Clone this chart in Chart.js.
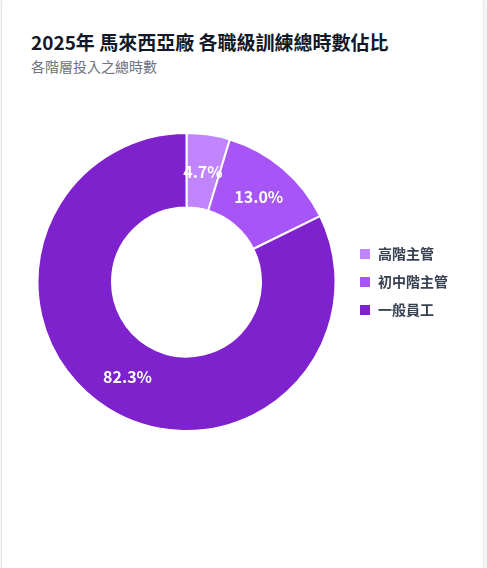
<!DOCTYPE html>
<html><head><meta charset="utf-8">
<script src="https://cdn.jsdelivr.net/npm/chart.js@4"></script>
<style>
body{margin:0;background:#f3f4f6;font-family:"Noto Sans CJK TC","Noto Sans",sans-serif;}
.card{position:absolute;left:1px;top:-10px;width:483px;height:600px;background:#fff;border:1px solid #e5e7eb;border-radius:14px;box-sizing:border-box;}
h1{position:absolute;left:31px;top:28px;margin:0;font-size:19px;font-weight:700;color:#111827;}
.sub{position:absolute;left:31px;top:56px;font-size:14px;color:#6b7280;}
.wrap{position:absolute;left:28px;top:132px;width:430px;height:300px;}
</style></head><body>
<div class="card"></div>
<h1>2025年 馬來西亞廠 各職級訓練總時數佔比</h1>
<div class="sub">各階層投入之總時數</div>
<div class="wrap"><canvas id="c"></canvas></div>
<script>
const labels = ['高階主管','初中階主管','一般員工'];
const values = [4.7, 13.0, 82.3];
const colors = ['#c084fc','#a855f7','#7e22ce'];

const sliceLabels = {
  id: 'sliceLabels',
  afterDatasetsDraw(chart) {
    const ctx = chart.ctx;
    const meta = chart.getDatasetMeta(0);
    ctx.save();
    ctx.fillStyle = '#fff';
    ctx.font = 'bold 16px "Noto Sans CJK TC", sans-serif';
    ctx.textAlign = 'center';
    ctx.textBaseline = 'middle';
    meta.data.forEach((arc, i) => {
      const p = arc.tooltipPosition();
      ctx.fillText(values[i].toFixed(1) + '%', p.x, p.y);
    });
    ctx.restore();
  }
};

new Chart(document.getElementById('c'), {
  type: 'doughnut',
  data: { labels, datasets: [{ data: values, backgroundColor: colors, borderColor: '#fff', borderWidth: 2 }] },
  options: {
    responsive: true, maintainAspectRatio: false, animation: false,
    cutout: '50%',
    plugins: {
      legend: {
        position: 'right',
        labels: { boxWidth: 12, boxHeight: 12, padding: 14, color: '#374151', font: { size: 14, weight: 'bold', family: '"Noto Sans CJK TC", sans-serif' } }
      },
      tooltip: { enabled: false }
    }
  },
  plugins: [sliceLabels]
});
</script>
</body></html>
